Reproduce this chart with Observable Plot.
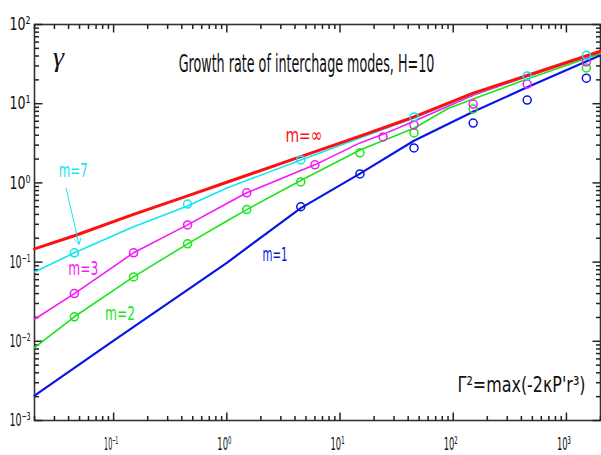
<!DOCTYPE html>
<html>
<head>
<meta charset="utf-8">
<script src="https://cdn.jsdelivr.net/npm/d3@7"></script>
<script src="https://cdn.jsdelivr.net/npm/@observablehq/plot@0.6"></script>
<style>
  body { margin: 0; background: #fff; }
  #chart { width: 601px; height: 455px; }
</style>
</head>
<body>
<div id="chart"></div>
<script>
const NARROW = "'Liberation Sans Narrow','DejaVu Sans Condensed','Arial Narrow','Liberation Sans',sans-serif";
const SERIF = "'Liberation Serif','DejaVu Serif',serif";

// Growth rate curves gamma(x), one per toroidal mode number m
const xInf = [0.02, 0.045, 0.15, 0.45, 1, 4.5, 15, 45, 150, 450, 2000];
const gInf = [0.147, 0.215, 0.40, 0.685, 1.02, 2.15, 3.9, 6.8, 13.6, 22.7, 46];

const x7 = [0.02, 0.045, 0.15, 0.45, 1, 4.5, 15, 45, 150, 450, 2000];
const g7 = [0.075, 0.131, 0.28, 0.51, 0.86, 1.95, 3.7, 6.6, 13.2, 22.3, 45];

const x3 = [0.02, 0.045, 0.15, 0.45, 1, 1.5, 4.5, 6, 15, 24, 45, 150, 450, 2000];
const g3 = [0.019, 0.040, 0.131, 0.295, 0.55, 0.75, 1.43, 1.69, 3.2, 4.1, 6.0, 12.8, 22, 45];

const x2 = [0.02, 0.045, 0.15, 0.45, 1, 1.5, 4.5, 15, 45, 90, 150, 450, 2000];
const g2 = [0.0083, 0.0204, 0.065, 0.17, 0.33, 0.46, 1.07, 2.6, 4.9, 8.7, 11.5, 20.5, 43];

const x1 = [0.02, 0.1, 1, 4.5, 15, 45, 150, 450, 2000];
const g1 = [0.00206, 0.0102, 0.098, 0.48, 1.31, 3.4, 7.9, 16.1, 41];

// Computed points (circles)
const px7 = [0.045, 0.45, 4.5, 45, 450, 1500];
const pg7 = [0.131, 0.54, 1.95, 6.8, 22.4, 41];
const px3 = [0.045, 0.15, 0.45, 1.5, 6, 24, 45, 150, 450, 1500];
const pg3 = [0.040, 0.131, 0.295, 0.75, 1.69, 3.8, 5.4, 9.9, 17.7, 33.6];
const px2 = [0.045, 0.15, 0.45, 1.5, 4.5, 15, 45, 150, 1500];
const pg2 = [0.0204, 0.065, 0.17, 0.46, 1.03, 2.4, 4.27, 8.6, 28.3];
const px1 = [4.5, 15, 45, 150, 450, 1500];
const pg1 = [0.50, 1.30, 2.76, 5.7, 11.1, 21];

// Mode labels and their anchor positions (data units)
const modeNames = ["m=1", "m=2", "m=3", "m=7", "m=\u221E"];
const labelX = [2.67, 0.114, 0.054, 0.044, 4.8];
const labelY = [0.124, 0.0223, 0.082, 1.42, 4.0];
const labelWidth = [25, 30, 30, 29, 37];
const colors = ["#0a14e6", "#19e619", "#f51af5", "#12e6f2", "#ff1010"];

// Arrow from the m=7 label to its curve
const arrowFrom = [0.038, 0.86];
const arrowTo = [0.0495, 0.168];

// Axis ticks
const xDomain = [0.02, 2000];
const yDomain = [1e-3, 1e2];
const xMajor = [0.1, 1, 10, 100, 1000];
const xTickLabels = ["10\u207B\u00B9", "10\u2070", "10\u00B9", "10\u00B2", "10\u00B3"];
const yMajor = [1e-3, 1e-2, 1e-1, 1, 10, 100];
const yTickLabels = ["10\u207B\u00B3", "10\u207B\u00B2", "10\u207B\u00B9", "10\u2070", "10\u00B9", "10\u00B2"];
const steps = [2, 3, 4, 5, 6, 7, 8, 9];
const xMinor = [0.01, 0.1, 1, 10, 100, 1000].flatMap(d => steps.map(k => k * d)).filter(v => v >= 0.02 && v <= 2000);
const yMinor = [1e-3, 1e-2, 1e-1, 1, 10].flatMap(d => steps.map(k => k * d));

const title = "Growth rate of interchage modes, H=10";
const formula = "\u0393\u00B2=max(-2\u03BAP'r\u00B3)";

const zip = (xs, ys) => xs.map((x, i) => ({x, y: ys[i]}));
const series = [
  {line: zip(x1, g1), pts: zip(px1, pg1), w: 2.2},
  {line: zip(x2, g2), pts: zip(px2, pg2), w: 1.6},
  {line: zip(x3, g3), pts: zip(px3, pg3), w: 1.6},
  {line: zip(x7, g7), pts: zip(px7, pg7), w: 1.6},
  {line: zip(xInf, gInf), pts: [], w: 3}
];
const labels = modeNames.map((t, i) => ({t, x: labelX[i], y: labelY[i], c: colors[i]}));

// plot frame geometry
const W = 601, H = 455, ML = 34, MR = 1, MT = 24, MB = 35;
const FW = W - ML - MR, FH = H - MT - MB;
const MAJ = 8, MIN = 4.5;

// tick stubs: pixel length expressed as a factor along each log axis
const decadesX = Math.log10(xDomain[1] / xDomain[0]);
const decadesY = Math.log10(yDomain[1] / yDomain[0]);
const fx = len => Math.pow(10, decadesX * len / FW);
const fy = len => Math.pow(10, decadesY * len / FH);
const xStubs = (vals, len) => vals.flatMap(v => [
  {x1: v, x2: v, y1: yDomain[0], y2: yDomain[0] * fy(len)},
  {x1: v, x2: v, y1: yDomain[1], y2: yDomain[1] / fy(len)}
]);
const yStubs = (vals, len) => vals.flatMap(v => [
  {y1: v, y2: v, x1: xDomain[0], x2: xDomain[0] * fx(len)},
  {y1: v, y2: v, x1: xDomain[1], x2: xDomain[1] / fx(len)}
]);
const stubs = [...xStubs(xMajor, MAJ), ...xStubs(xMinor, MIN), ...yStubs(yMajor, MAJ), ...yStubs(yMinor, MIN)];

const marks = [
  Plot.frame({stroke: "#333", strokeWidth: 1.6}),
  Plot.link(stubs, {x1: "x1", y1: "y1", x2: "x2", y2: "y2", stroke: "#222", strokeWidth: 1.5}),
  // tick labels
  Plot.text(xMajor, {x: d => d, frameAnchor: "bottom", lineAnchor: "top", dy: 17, dx: -2.5,
    text: (d, i) => xTickLabels[i], fontSize: 18, fontFamily: NARROW, fill: "#111"}),
  Plot.text(yMajor, {y: d => d, frameAnchor: "left", textAnchor: "end", lineAnchor: "middle", dx: -4,
    text: (d, i) => yTickLabels[i], fontSize: 18, fontFamily: NARROW, fill: "#111"})
];

series.forEach((s, i) => {
  marks.push(Plot.line(s.line, {x: "x", y: "y", stroke: colors[i], strokeWidth: s.w}));
});
series.forEach((s, i) => {
  if (s.pts.length) marks.push(Plot.dot(s.pts, {x: "x", y: "y", r: 4, stroke: colors[i], strokeWidth: 1.5, fill: "none"}));
});

marks.push(
  Plot.arrow([0], {x1: () => arrowFrom[0], y1: () => arrowFrom[1], x2: () => arrowTo[0], y2: () => arrowTo[1],
    stroke: colors[3], strokeWidth: 1, headLength: 9}),
  Plot.text(labels, {x: "x", y: "y", text: "t", fill: "c", fontSize: 20, fontFamily: NARROW}),
  Plot.text([title], {frameAnchor: "top", dx: -11, dy: 30, fontSize: 24, fontFamily: NARROW, fill: "#111"}),
  Plot.text(["\u03B3"], {frameAnchor: "top-left", textAnchor: "middle", dx: 24, dy: 22, fontSize: 28, fontStyle: "italic", fontFamily: SERIF, fill: "#111"}),
  Plot.text([formula], {frameAnchor: "bottom-right", textAnchor: "end", dx: -15, dy: -29, fontSize: 22, fontFamily: NARROW, fill: "#111"})
);

const chart = Plot.plot({
  width: W,
  height: H,
  marginLeft: ML,
  marginRight: MR,
  marginTop: MT,
  marginBottom: MB,
  style: {background: "#fff", fontFamily: NARROW, color: "#111"},
  x: {type: "log", domain: xDomain, label: null, axis: null},
  y: {type: "log", domain: yDomain, label: null, axis: null},
  marks
});

document.getElementById("chart").appendChild(chart);

// Condensed lettering: small labels via textLength, long texts via a horizontal scale
const svg = d3.select(chart);
const squeeze = (el, w) => d3.select(el).attr("textLength", w).attr("lengthAdjust", "spacingAndGlyphs");
const narrowTo = (el, w) => {
  const natural = el.getComputedTextLength();
  if (natural > w) {
    const tr = el.getAttribute("transform") || "";
    el.setAttribute("transform", `${tr} scale(${(w / natural).toFixed(3)},1)`);
  }
};
svg.selectAll("text").each(function () {
  const t = this.textContent;
  if (t === title) narrowTo(this, 256);
  else if (t === formula) narrowTo(this, 128);
  else if (modeNames.includes(t)) squeeze(this, labelWidth[modeNames.indexOf(t)]);
  else if (xTickLabels.includes(t) || yTickLabels.includes(t)) {
    const anchor = this.closest("[text-anchor]");
    const isY = anchor && anchor.getAttribute("text-anchor") === "end";
    squeeze(this, isY ? 21 : 14);
  }
});
</script>
</body>
</html>
